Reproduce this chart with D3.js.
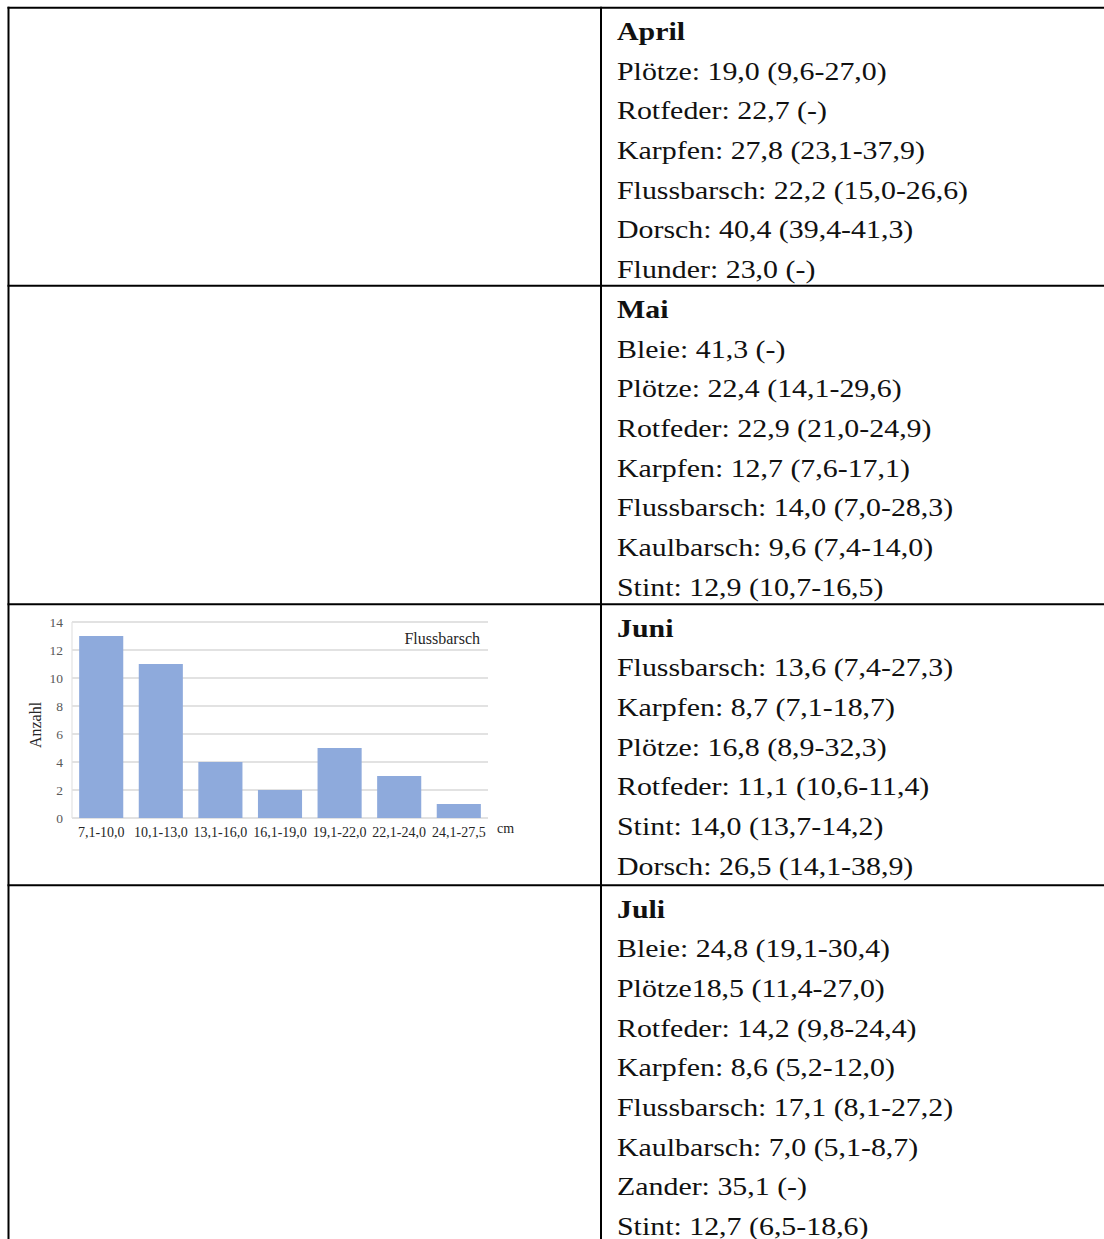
<!DOCTYPE html>
<html><head><meta charset="utf-8">
<script src="https://cdn.jsdelivr.net/npm/d3@7"></script>
<style>html,body{margin:0;padding:0;background:#fff;overflow:hidden}</style>
</head><body>
<svg id="c" width="1104" height="1239"></svg>
<script>
const categories = ["7,1-10,0","10,1-13,0","13,1-16,0","16,1-19,0","19,1-22,0","22,1-24,0","24,1-27,5"];
const counts = [13, 11, 4, 2, 5, 3, 1];
const yTicks = [0, 2, 4, 6, 8, 10, 12, 14];
const seriesName = "Flussbarsch";
const yTitle = "Anzahl";
const xUnit = "cm";

const months = ["April", "Mai", "Juni", "Juli"];
const aprilLines = ["Plötze: 19,0 (9,6-27,0)","Rotfeder: 22,7 (-)","Karpfen: 27,8 (23,1-37,9)","Flussbarsch: 22,2 (15,0-26,6)","Dorsch: 40,4 (39,4-41,3)","Flunder: 23,0 (-)"];
const maiLines = ["Bleie: 41,3 (-)","Plötze: 22,4 (14,1-29,6)","Rotfeder: 22,9 (21,0-24,9)","Karpfen: 12,7 (7,6-17,1)","Flussbarsch: 14,0 (7,0-28,3)","Kaulbarsch: 9,6 (7,4-14,0)","Stint: 12,9 (10,7-16,5)"];
const juniLines = ["Flussbarsch: 13,6 (7,4-27,3)","Karpfen: 8,7 (7,1-18,7)","Plötze: 16,8 (8,9-32,3)","Rotfeder: 11,1 (10,6-11,4)","Stint: 14,0 (13,7-14,2)","Dorsch: 26,5 (14,1-38,9)"];
const juliLines = ["Bleie: 24,8 (19,1-30,4)","Plötze18,5 (11,4-27,0)","Rotfeder: 14,2 (9,8-24,4)","Karpfen: 8,6 (5,2-12,0)","Flussbarsch: 17,1 (8,1-27,2)","Kaulbarsch: 7,0 (5,1-8,7)","Zander: 35,1 (-)","Stint: 12,7 (6,5-18,6)"];
const monthLines = [aprilLines, maiLines, juniLines, juliLines];

const svg = d3.select("#c");
const rowTops = [7.7, 285.7, 604.3, 885.3];
const colX = 601, leftX = 8.5, textX = 617, lineH = 39.7;
const serif = "'Liberation Serif', 'Times New Roman', serif";

// table lines
const tbl = svg.append("g").attr("stroke", "#000").attr("stroke-width", 2);
tbl.append("line").attr("x1", leftX).attr("x2", leftX).attr("y1", 6.7).attr("y2", 1239);
tbl.append("line").attr("x1", colX).attr("x2", colX).attr("y1", 6.7).attr("y2", 1239);
rowTops.forEach(t => tbl.append("line").attr("x1", 7.5).attr("x2", 1104).attr("y1", t).attr("y2", t));

// texts
months.forEach((m, i) => {
  const g = svg.append("g").attr("transform", `translate(${textX},0) scale(1.15,1)`)
    .attr("font-family", serif).attr("font-size", 26).attr("fill", "#111");
  const base = rowTops[i] + 32.3;
  g.append("text").attr("x", 0).attr("y", base).attr("font-weight", "bold").text(m);
  monthLines[i].forEach((s, j) => {
    g.append("text").attr("x", 0).attr("y", base + (j + 1) * lineH).text(s);
  });
});

// chart
const x = d3.scaleBand().domain(categories).range([72, 488]).paddingInner(0.26).paddingOuter(0.12);
const y = d3.scaleLinear().domain([0, 14]).range([818, 622]);
const ch = svg.append("g");

ch.append("g").selectAll("line").data(yTicks).join("line")
  .attr("x1", 72).attr("x2", 488).attr("y1", d => y(d)).attr("y2", d => y(d))
  .attr("stroke", "#d9d9d9").attr("stroke-width", 1.3);
ch.append("line").attr("x1", 72).attr("x2", 72).attr("y1", y(14)).attr("y2", y(0))
  .attr("stroke", "#e3e3e3").attr("stroke-width", 1.2);

ch.append("g").selectAll("rect").data(counts).join("rect")
  .attr("x", (d, i) => x(categories[i])).attr("width", x.bandwidth())
  .attr("y", d => y(d)).attr("height", d => y(0) - y(d))
  .attr("fill", "#8eaadc");

const yAxis = d3.axisLeft(y).tickValues(yTicks).tickSize(0).tickPadding(0);
const ya = ch.append("g").attr("transform", "translate(63,0)").call(yAxis);
ya.select(".domain").remove();
ya.selectAll("text").attr("font-family", serif).attr("font-size", 13.5).attr("fill", "#595959");

const xAxis = d3.axisBottom(x).tickSize(0).tickPadding(0);
const xa = ch.append("g").attr("transform", "translate(0,827)").call(xAxis);
xa.select(".domain").remove();
xa.selectAll("text").attr("font-family", serif).attr("font-size", 14).attr("fill", "#262626");

ch.append("text").attr("x", 497).attr("y", 833).attr("font-family", serif).attr("font-size", 14).attr("fill", "#262626").text(xUnit);
ch.append("text").attr("transform", "translate(41,725) rotate(-90)").attr("text-anchor", "middle")
  .attr("font-family", serif).attr("font-size", 16).attr("fill", "#262626").text(yTitle);
ch.append("text").attr("x", 480).attr("y", 644).attr("text-anchor", "end")
  .attr("font-family", serif).attr("font-size", 16).attr("fill", "#262626").text(seriesName);
</script>
</body></html>
